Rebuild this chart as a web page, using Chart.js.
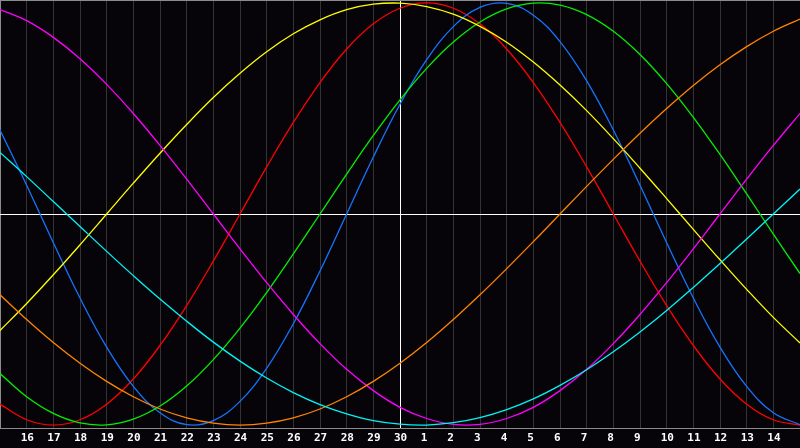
<!DOCTYPE html>
<html>
<head>
<meta charset="utf-8">
<script src="https://cdn.jsdelivr.net/npm/chart.js@4/dist/chart.umd.min.js"></script>
<style>
  html, body { margin: 0; padding: 0; background: #060409; }
  #wrap { width: 800px; height: 448px; }
  canvas { display: block; background: #060409; }
</style>
</head>
<body>
<div id="wrap"><canvas id="c" width="800" height="448"></canvas></div>
<script>
// Day labels (15th to 15th of next month)
const dayLabels = ['15','16','17','18','19','20','21','22','23','24','25','26','27','28','29','30',
                   '1','2','3','4','5','6','7','8','9','10','11','12','13','14','15'];

// Cycle values (-1 .. 1)
const redSeries = [-0.901,-0.975,-1.000,-0.975,-0.901,-0.782,-0.623,-0.434,-0.223,0.000,0.223,
  0.434,0.623,0.782,0.901,0.975,1.000,0.975,0.901,0.782,0.623,0.434,0.223,0.000,-0.223,-0.434,
  -0.623,-0.782,-0.901,-0.975,-1.000];
const blueSeries = [0.398,0.136,-0.136,-0.398,-0.631,-0.817,-0.942,-0.998,-0.979,-0.888,-0.731,
  -0.520,-0.270,0.000,0.270,0.520,0.731,0.888,0.979,0.998,0.942,0.817,0.631,0.398,0.136,-0.136,
  -0.398,-0.631,-0.817,-0.942,-0.998];
const greenSeries = [-0.756,-0.866,-0.945,-0.990,-0.999,-0.972,-0.910,-0.815,-0.690,-0.541,-0.372,
  -0.189,0.000,0.189,0.372,0.541,0.690,0.815,0.910,0.972,0.999,0.990,0.945,0.866,0.756,0.618,
  0.458,0.282,0.095,-0.095,-0.282];
const magentaSeries = [0.969,0.916,0.837,0.736,0.614,0.476,0.325,0.165,0.000,-0.165,-0.325,
  -0.476,-0.614,-0.736,-0.837,-0.916,-0.969,-0.997,-0.997,-0.969,-0.916,-0.837,-0.736,-0.614,
  -0.476,-0.325,-0.165,0.000,0.165,0.325,0.476];
const yellowSeries = [-0.552,-0.424,-0.288,-0.146,0.000,0.146,0.288,0.424,0.552,0.667,0.769,
  0.854,0.920,0.968,0.994,0.999,0.983,0.947,0.889,0.814,0.720,0.611,0.490,0.357,0.217,0.073,
  -0.073,-0.217,-0.357,-0.490,-0.611];
const orangeSeries = [-0.383,-0.500,-0.609,-0.707,-0.793,-0.866,-0.924,-0.966,-0.991,-1.000,-0.991,
  -0.966,-0.924,-0.866,-0.793,-0.707,-0.609,-0.500,-0.383,-0.259,-0.131,0.000,0.131,0.259,0.383,
  0.500,0.609,0.707,0.793,0.866,0.924];
const cyanSeries = [0.292,0.177,0.059,-0.059,-0.177,-0.292,-0.403,-0.508,-0.607,-0.697,-0.777,
  -0.846,-0.903,-0.947,-0.979,-0.996,-1.000,-0.989,-0.965,-0.927,-0.876,-0.812,-0.738,-0.653,
  -0.559,-0.457,-0.348,-0.235,-0.118,0.000,0.118];

const YMAX = 1.014;
const FRAME = '#8c8c8c';
const GRID = '#343434';

function ds(data, color) {
  return { data, borderColor: color, borderWidth: 1.3, pointRadius: 0, fill: false,
           tension: 0.4, borderCapStyle: 'butt' };
}

new Chart(document.getElementById('c'), {
  type: 'line',
  data: {
    labels: dayLabels,
    datasets: [
      ds(cyanSeries, '#00f4f4'),
      ds(orangeSeries, '#ff8400'),
      ds(magentaSeries, '#ff00ff'),
      ds(yellowSeries, '#ffff00'),
      ds(greenSeries, '#00f000'),
      ds(blueSeries, '#1474ff'),
      ds(redSeries, '#ff0000')
    ]
  },
  options: {
    responsive: false,
    animation: false,
    layout: { padding: 0 },
    plugins: { legend: { display: false }, tooltip: { enabled: false } },
    scales: {
      x: {
        type: 'category',
        offset: false,
        grid: {
          drawTicks: false,
          lineWidth: 1,
          color: (ctx) => ctx.index === 0 ? FRAME : (ctx.index === 15 ? '#ffffff' : GRID)
        },
        border: { display: true, color: FRAME, width: 1 },
        ticks: {
          autoSkip: false,
          maxRotation: 0,
          minRotation: 0,
          align: 'start',
          labelOffset: -6,
          padding: 4,
          color: '#ffffff',
          font: { family: 'DejaVu Sans Mono', weight: 'bold', size: 11 },
          callback: function (v, i) {
            return (i === 0 || i === dayLabels.length - 1) ? '' : dayLabels[i];
          }
        },
        afterFit: (scale) => { scale.height = 20; scale.paddingLeft = 0; scale.paddingRight = 0; }
      },
      y: {
        type: 'linear',
        min: -YMAX,
        max: YMAX,
        ticks: { display: false },
        border: { display: false },
        grid: {
          drawTicks: false,
          lineWidth: 1,
          color: (ctx) => {
            const v = ctx.tick ? ctx.tick.value : null;
            if (v === 0) return '#ffffff';
            if (v === YMAX) return FRAME;
            return 'rgba(0,0,0,0)';
          }
        },
        afterBuildTicks: (scale) => { scale.ticks = [{ value: -YMAX }, { value: 0 }, { value: YMAX }]; },
        afterFit: (scale) => { scale.width = 0; }
      }
    }
  }
});
</script>
</body>
</html>
